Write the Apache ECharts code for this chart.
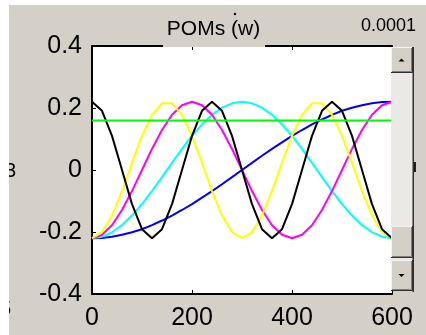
<!DOCTYPE html>
<html><head><meta charset="utf-8">
<script src="https://cdn.jsdelivr.net/npm/echarts@6/dist/echarts.min.js"></script>
<style>html,body{margin:0;padding:0;background:#fff}#c{width:426px;height:335px}</style>
</head><body><div id="c"></div>
<script>
// ---- data ----
const xValues = [0,20,40,60,80,100,120,140,160,180,200,220,240,260,280,300,320,340,360,380,400,420,440,460,480,500,520,540,560,580,600];
const blueValues = [-0.220,-0.219,-0.215,-0.209,-0.201,-0.191,-0.178,-0.163,-0.147,-0.129,-0.110,-0.089,-0.068,-0.046,-0.023,0.000,0.023,0.046,0.068,0.089,0.110,0.129,0.147,0.163,0.178,0.191,0.201,0.209,0.215,0.219,0.220];
const cyanValues = [-0.220,-0.215,-0.201,-0.178,-0.147,-0.110,-0.068,-0.023,0.023,0.068,0.110,0.147,0.178,0.201,0.215,0.220,0.215,0.201,0.178,0.147,0.110,0.068,0.023,-0.023,-0.068,-0.110,-0.147,-0.178,-0.201,-0.215,-0.220];
const magentaValues = [-0.220,-0.209,-0.178,-0.129,-0.068,0.000,0.068,0.129,0.178,0.209,0.220,0.209,0.178,0.129,0.068,0.000,-0.068,-0.129,-0.178,-0.209,-0.220,-0.209,-0.178,-0.129,-0.068,0.000,0.068,0.129,0.178,0.209,0.220];
const yellowValues = [-0.220,-0.201,-0.147,-0.068,0.023,0.110,0.178,0.215,0.215,0.178,0.110,0.023,-0.068,-0.147,-0.201,-0.220,-0.201,-0.147,-0.068,0.023,0.110,0.178,0.215,0.215,0.178,0.110,0.023,-0.068,-0.147,-0.201,-0.220];
const blackValues = [0.220,0.191,0.110,0.000,-0.110,-0.191,-0.220,-0.191,-0.110,0.000,0.110,0.191,0.220,0.191,0.110,0.000,-0.110,-0.191,-0.220,-0.191,-0.110,0.000,0.110,0.191,0.220,0.191,0.110,0.000,-0.110,-0.191,-0.220];
const greenValues = [0.16,0.16,0.16,0.16,0.16,0.16,0.16,0.16,0.16,0.16,0.16,0.16,0.16,0.16,0.16,0.16,0.16,0.16,0.16,0.16,0.16,0.16,0.16,0.16,0.16,0.16,0.16,0.16,0.16,0.16,0.16];
const titleText = 'POMs (w)';
const cornerText = '0.0001';

const FONT = 'Liberation Sans';
const GRAY = '#d4d0c8';

function pts(arr){ return xValues.map((x,i)=>[x, arr[i]]); }
function line(arr, color){
  return {type:'line', data: pts(arr), symbol:'none', showSymbol:false, silent:true,
    lineStyle:{color:color, width:2}, itemStyle:{color:color}, clip:true};
}
function button(x,y,w,h,arrow){
  const els = [
    {type:'rect', shape:{x:x,y:y,width:w,height:h}, style:{fill:GRAY}, z:100},
    {type:'polyline', shape:{points:[[x+0.5,y+h-1],[x+0.5,y+0.5],[x+w-1,y+0.5]]}, style:{stroke:'#f4f3f0',lineWidth:1,fill:null}, z:101},
    {type:'polyline', shape:{points:[[x+1,y+h-1.5],[x+w-1.5,y+h-1.5],[x+w-1.5,y+1]]}, style:{stroke:'#808080',lineWidth:1,fill:null}, z:101},
    {type:'polyline', shape:{points:[[x,y+h-0.5],[x+w-0.5,y+h-0.5],[x+w-0.5,y]]}, style:{stroke:'#303030',lineWidth:1,fill:null}, z:101}
  ];
  const cx = x + w/2 - 0.5, cy = y + h/2;
  if (arrow === 'up') els.push({type:'polygon', shape:{points:[[cx-3,cy+1.5],[cx+3,cy+1.5],[cx,cy-1.5]]}, style:{fill:'#000'}, z:102});
  if (arrow === 'down') els.push({type:'polygon', shape:{points:[[cx-3,cy-1.5],[cx+3,cy-1.5],[cx,cy+1.5]]}, style:{fill:'#000'}, z:102});
  return els;
}

const chart = echarts.init(document.getElementById('c'), null, {renderer:'canvas'});
const axisCommon = {
  type:'value', min:0, max:600, interval:200,
  axisLine:{show:true, onZero:false, lineStyle:{color:'#000', width:2}},
  axisTick:{show:true, inside:true, length:4, lineStyle:{color:'#000', width:1}},
  splitLine:{show:false}
};
const graphics = [].concat(
  [
    // title box covering the top axis line
    {type:'rect', shape:{x:163,y:36,width:102,height:11}, style:{fill:GRAY}, z:100},
    {type:'text', x:213.5, y:29, style:{text:titleText, font:'21px "'+FONT+'"', fill:'#000', textAlign:'center', textVerticalAlign:'middle'}, z:102},
    {type:'circle', shape:{cx:235, cy:14, r:1.2}, style:{fill:'#000'}, z:102},
    {type:'text', x:416, y:26, style:{text:cornerText, font:'18px "'+FONT+'"', fill:'#000', textAlign:'right', textVerticalAlign:'middle'}, z:102},
    // scrollbar track
    {type:'rect', shape:{x:391,y:73,width:22,height:153}, style:{fill:'#ebe9e6'}, z:100},
    {type:'rect', shape:{x:391,y:257,width:22,height:4}, style:{fill:'#ebe9e6'}, z:100},
    {type:'rect', shape:{x:412.5,y:47,width:1.5,height:245}, style:{fill:'#303030'}, z:101},
    // stray marks at the right edge
    {type:'rect', shape:{x:414,y:162,width:2,height:10}, style:{fill:'#202020'}, z:101},
    // clipped glyphs at the left edge
    {type:'text', x:5, y:171, style:{text:'3', font:'20px "'+FONT+'"', fill:'#000', textAlign:'left', textVerticalAlign:'middle'}, z:102},
    {type:'text', x:0, y:309, style:{text:'5', font:'20px "'+FONT+'"', fill:'#000', textAlign:'left', textVerticalAlign:'middle'}, z:102},
    // white strips of the screenshot border
    {type:'rect', shape:{x:0,y:0,width:9,height:335}, style:{fill:'#fff'}, z:110},
    {type:'rect', shape:{x:0,y:0,width:426,height:5}, style:{fill:'#fff'}, z:110}
  ],
  button(391,47,22,26,'up'),
  button(391,226,22,32,null),
  button(391,260,22,31,'down')
);

chart.setOption({
  animation:false,
  backgroundColor: GRAY,
  grid:{left:92, right:34, top:46, bottom:41, show:true, backgroundColor:'#fff', borderWidth:0},
  xAxis:[
    Object.assign({}, axisCommon, {position:'bottom',
      axisLabel:{color:'#000', fontSize:25, fontFamily:FONT, margin:12}}),
    Object.assign({}, axisCommon, {position:'top', axisLabel:{show:false}})
  ],
  yAxis:{
    type:'value', min:-0.4, max:0.4, interval:0.2,
    axisLine:{show:true, onZero:false, lineStyle:{color:'#000', width:2}},
    axisTick:{show:true, inside:true, length:4, lineStyle:{color:'#000', width:1}},
    axisLabel:{color:'#000', fontSize:25, fontFamily:FONT, margin:10},
    splitLine:{show:false}
  },
  series:[
    line(blueValues, '#0000ff'),
    line(cyanValues, '#00ffff'),
    line(magentaValues, '#ff00ff'),
    line(yellowValues, '#ffff00'),
    line(blackValues, '#000000'),
    line(greenValues, '#00ff00')
  ],
  graphic: graphics
});
</script>
</body></html>
